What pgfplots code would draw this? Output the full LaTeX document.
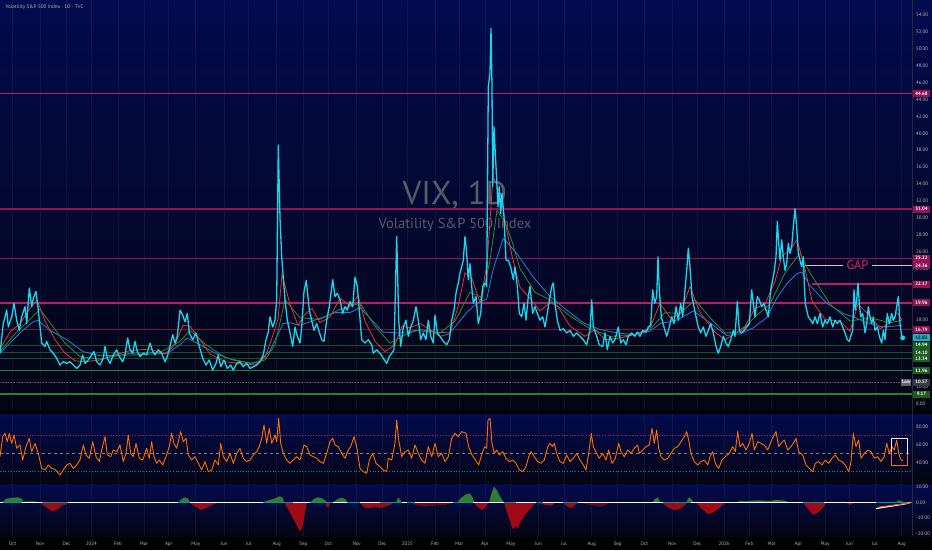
\documentclass[border=0pt]{standalone}
\usepackage{pgfplots}
\pgfplotsset{compat=1.18}
\usepackage{fontspec}
\setmainfont{PT Sans}
\definecolor{navytop}{RGB}{2,11,78}
\definecolor{navybot}{RGB}{5,5,20}
\definecolor{vixc}{RGB}{24,214,235}
\definecolor{redma}{RGB}{225,55,50}
\definecolor{greenma}{RGB}{45,140,50}
\definecolor{bluema}{RGB}{35,130,210}
\definecolor{crim}{RGB}{150,18,85}
\definecolor{crimb}{RGB}{185,28,105}
\definecolor{crimd}{RGB}{115,14,66}
\definecolor{gdark}{RGB}{27,80,32}
\definecolor{gmid}{RGB}{46,125,50}
\definecolor{gtag}{RGB}{27,94,32}
\definecolor{tickc}{RGB}{178,181,190}
\definecolor{wmc}{RGB}{88,90,104}
\definecolor{gapc}{RGB}{214,40,100}
\definecolor{gapl}{RGB}{220,185,205}
\definecolor{rsic}{RGB}{255,109,0}
\definecolor{macdg}{RGB}{46,125,50}
\definecolor{macdr}{RGB}{160,10,20}
\definecolor{macdteal}{RGB}{0,150,165}
\definecolor{sepc}{RGB}{40,42,60}
\pgfplotsset{panel/.style={scale only axis, width=912pt, xmin=0, xmax=912,
  axis line style={draw=none}, major tick length=0pt,
  xtick={12.7,40,66.7,91.3,118,144,168.7,195.7,224,248.7,276.7,303.3,328.3,356.7,382.3,407.3,435,459.3,485,510.7,538.3,564,591.7,617.7,644.3,672.3,697.3,724,749.3,771.7,798.3,825,849.3,875,901.7},
  xmajorgrids, grid style={white, opacity=0.05, line width=0.5pt},
  yticklabel pos=right,
  yticklabel style={font=\fontsize{5}{6}\selectfont, text=tickc, xshift=0.5pt,
    /pgf/number format/fixed, /pgf/number format/fixed zerofill, /pgf/number format/precision=2},
  /pgf/number format/assume math mode=true}}
\begin{document}
\begin{tikzpicture}[x=1pt,y=1pt]
\fill[black] (0,0) rectangle (932,550);
\shade[top color=navytop, bottom color=navybot] (0,140) rectangle (932,550);
\shade[top color=navytop, bottom color=navybot] (0,67.3) rectangle (932,136);
\shade[top color=navytop, bottom color=navybot] (0,14) rectangle (932,66);
\node[text=wmc, font=\fontsize{33}{36}\selectfont] at (455,355) {VIX, 1D};
\node[text=wmc, font=\fontsize{14.5}{16}\selectfont] at (455,325) {Volatility S\&P 500 Index};
\node[anchor=west, text=tickc, font=\fontsize{5.2}{6}\selectfont] at (2,543.3) {Volatility S\&P 500 Index · 1D · TVC};

% ---------------- main panel ----------------
\begin{axis}[panel, at={(0pt,140pt)}, anchor=south west, height=410pt,
  ymin=7.29, ymax=55.75, ytick={8,10,...,54}, xticklabels={}, clip=false]
\addplot[crimb, line width=1.4pt] coordinates {(0,44.68)(912,44.68)};
\addplot[crim, line width=1.3pt] coordinates {(0,31.04)(912,31.04)};
\addplot[crim, line width=1.3pt] coordinates {(0,25.22)(912,25.22)};
\addplot[crimb, line width=1.4pt] coordinates {(811.7,22.17)(912,22.17)};
\addplot[crimb, line width=1.4pt] coordinates {(0,19.96)(912,19.96)};
\addplot[crim!85!black, line width=1.4pt] coordinates {(0,16.79)(912,16.79)};
\addplot[gdark, line width=0.7pt] coordinates {(0,14.94)(912,14.94)};
\addplot[gdark, line width=0.7pt] coordinates {(0,14.10)(912,14.10)};
\addplot[gdark, line width=0.7pt] coordinates {(0,13.34)(912,13.34)};
\addplot[gmid, line width=1.3pt] coordinates {(0,11.96)(912,11.96)};
\addplot[gray!70!black, line width=0.6pt, densely dotted] coordinates {(0,10.57)(912,10.57)};
\addplot[gmid, line width=1.3pt] coordinates {(0,9.17)(912,9.17)};
\addplot[gapl, line width=1pt] coordinates {(805,24.36)(843.3,24.36)};
\addplot[gapl, line width=1pt] coordinates {(871.7,24.36)(912,24.36)};
\node[text=gapc, font=\fontsize{12.5}{13}\selectfont] at (axis cs:857.5,24.36) {GAP};
% moving averages
\addplot[bluema, line width=0.8pt] coordinates {(0,14.0)(20,16.4)(33,17.7)(38,17.9)(50,16.7)(67,15.6)(83,14.2)(100,13.7)(133,13.8)(150,13.9)(167,14.0)(180,15.0)(187,15.8)(200,15.0)(217,13.9)(233,13.2)(253,12.8)(260,13.1)(270,14.3)(283,17.5)(290,17.6)(300,17.3)(317,18.0)(335,18.8)(350,18.8)(360,19.4)(383,16.5)(400,16.4)(416,16.7)(433,16.5)(450,16.4)(466.7,18.8)(476.7,19.9)(486.7,20.4)(493.3,24.0)(503.3,27.6)(516.7,25.8)(533.3,23.0)(550,20.7)(566.7,19.1)(583.3,17.6)(600,16.8)(616.7,16.4)(633,16.2)(650,16.6)(660,17.5)(676.7,17.9)(693.3,19.0)(710,17.6)(726.7,16.1)(740,16.3)(753.3,17.0)(766.7,18.2)(776.7,20.5)(786.7,22.2)(796.7,23.4)(801.7,23.6)(810,22.0)(826.7,19.9)(843.3,18.7)(853.3,18.3)(866.7,17.6)(883.3,17.1)(902,17.3)};
\addplot[greenma, line width=0.8pt] coordinates {(0,14.2)(15,16.3)(30,18.0)(40,19.2)(50,17.6)(65,15.2)(80,13.6)(100,13.3)(130,14.0)(160,14.1)(180,15.4)(190,16.7)(205,15.1)(225,13.5)(250,12.8)(265,13.2)(275,15.0)(285,20.3)(300,18.2)(320,18.0)(340,19.2)(360,19.9)(375,17.2)(390,15.2)(405,16.2)(420,16.8)(440,16.4)(455,17.8)(470,21.2)(482,20.6)(490,25)(497,30.9)(505,29.5)(512,27.2)(520,24)(535,21.2)(550,20.3)(570,18.4)(590,16.9)(610,16.0)(630,16.1)(650,16.8)(665,18.8)(680,18.7)(695,20.3)(710,18.2)(725,16.4)(740,16.5)(755,18.3)(770,19.8)(785,23.5)(800,25.8)(810,23.5)(830,19.8)(850,17.8)(870,18.2)(890,17.6)(902,17.9)};
\addplot[redma, line width=0.8pt] coordinates {(0,14.5)(10,16.5)(20,17.5)(30,19.3)(37,20.3)(45,17.8)(55,15.6)(65,14.0)(75,13.1)(85,13.0)(100,13.2)(115,13.8)(130,14.3)(150,14.5)(165,13.9)(175,15.0)(183,17.3)(190,17.2)(200,15.6)(210,13.9)(225,13.0)(240,12.8)(255,12.6)(265,13.5)(272,15.8)(278,18)(282,23.3)(290,19.8)(298,17.3)(305,18.6)(312,19.3)(320,17.6)(330,18.3)(340,20.5)(350,19.6)(358,20.8)(365,17.8)(375,15.4)(385,14.2)(395,15.0)(402,17.2)(410,17.0)(420,17.5)(430,16.8)(440,16.0)(450,16.3)(458,19.5)(465,23.5)(472,22.8)(480,20.0)(487,24.5)(493,34.9)(500,33)(506,29)(512,25.5)(520,21.8)(530,20.5)(540,19.0)(550,20.0)(558,19.5)(570,17.2)(585,16.0)(595,16.8)(605,15.6)(620,15.8)(635,16.2)(650,17.0)(660,19.9)(670,18.2)(680,18.6)(690,21.9)(700,18.8)(715,16.5)(725,15.6)(735,16.3)(745,17.2)(755,19.3)(765,19.8)(775,22.5)(782,25.5)(790,26.2)(797,27.4)(805,24)(812,20.2)(825,18.0)(840,17.8)(850,16.6)(858,19.8)(870,18.4)(880,16.9)(890,17.6)(897,18.8)(902,17.9)};
% VIX
\addplot[vixc, line width=1.3pt, line join=round] coordinates {(0,14.0)(3.3,17.5)(6.7,19.1)(8.3,17.1)(11.7,18.3)(14,19.9)(16.7,17.9)(19.3,16.7)(21.7,18.3)(25,19.5)(26.7,17.5)(29.3,21.7)(31.7,19.5)(33.3,20.5)(36,21.3)(38.3,19.1)(41.7,15.2)(45,14.8)(46.7,15.4)(50,14.4)(53.3,14.0)(56.7,13.4)(60,12.6)(63.3,13.0)(66.7,12.8)(70,13.0)(73.3,12.6)(76.7,12.2)(80,12.6)(82.7,13.8)(85,12.8)(88.3,13.2)(91.7,13.8)(94,14.2)(96.7,13.0)(100,12.6)(103.3,13.4)(105,14.8)(107.3,13.4)(110,12.8)(113.3,13.8)(116.7,14.4)(119.3,13.6)(122.7,13.0)(125,13.8)(127.7,15.8)(130,14.4)(132.7,14.0)(135,15.4)(137.3,14.2)(140,13.6)(143.3,14.0)(146.7,13.8)(150,15.2)(152.7,14.2)(155,13.8)(158.3,14.4)(161.7,14.0)(165,13.0)(167.3,13.6)(170,14.8)(172.7,16.2)(175,15.2)(177.3,16.0)(180,19.1)(182.7,18.5)(185,17.7)(187.3,18.7)(189.3,16.4)(192.7,15.6)(196,16.4)(199.3,14.8)(202.7,13.4)(206,12.6)(209.3,13.2)(212.7,12.0)(216,12.8)(218.3,13.8)(220.7,12.4)(224,13.2)(227.3,12.2)(230.7,12.6)(233.3,12.0)(236.7,12.8)(240,13.0)(243.3,12.4)(246.7,12.8)(250,12.2)(253.3,12.4)(256.7,12.6)(260,13.0)(263.3,13.8)(266,15.6)(268.3,16.5)(270,18.3)(272.7,17.1)(275,17.9)(276.7,20.3)(278.3,38.6)(280,30.0)(281.7,25.4)(285,20.3)(287.3,17.9)(290,16.4)(292.7,14.8)(295,17.1)(297.3,16.0)(300,15.2)(301.7,17.1)(304,21.3)(306.3,22.6)(309.3,19.1)(311.7,17.9)(314,16.7)(316.7,17.5)(319.3,16.5)(321.7,15.6)(324,15.4)(326.7,17.9)(329.3,19.5)(332.7,22.7)(335,20.7)(337.3,21.1)(340,20.3)(342.7,18.7)(345,19.5)(347.3,19.1)(350,20.1)(352.7,19.5)(355,23.0)(357.3,21.9)(359.3,19.1)(361.7,15.6)(365,15.2)(368.3,15.6)(371.7,15.0)(373.3,14.0)(376.7,14.4)(380,14.0)(383.3,13.4)(386.7,12.8)(389.3,13.6)(391.7,14.0)(394,14.4)(396.7,27.8)(398.7,17.9)(400.7,14.8)(403.3,17.1)(406,17.9)(408.3,16.0)(410.7,17.1)(413.3,17.9)(416,19.5)(418.3,17.9)(420.7,15.6)(423.3,16.4)(426,15.6)(428.3,17.9)(430.7,16.0)(433.3,15.2)(435,18.5)(437.3,16.4)(440,16.0)(443.3,15.4)(446.7,15.0)(449.3,15.6)(451.7,17.9)(454,19.1)(456,21.1)(458.3,22.3)(460,23.5)(461.7,24.2)(463.3,25.0)(465,27.8)(466.7,25.8)(468.3,22.7)(470,24.6)(471.7,21.9)(473.3,19.9)(476,20.7)(478.3,17.5)(480.7,18.7)(482.7,21.9)(485,22.3)(486.7,21.9)(488.3,45.5)(490,47.1)(491,52.4)(492,45.5)(492.7,33.7)(494,40.8)(495.3,37.6)(496.7,34.5)(498,31.3)(499.3,33.7)(500.7,30.5)(502,32.9)(504,30.1)(506,25.0)(508.3,25.0)(510.7,24.2)(513.3,22.7)(515,24.2)(517.3,21.9)(519.3,18.7)(521.7,18.3)(524,19.9)(526,17.9)(528.3,20.7)(530,21.9)(532.7,18.7)(535,19.5)(537.3,18.7)(540,17.9)(542.7,18.3)(545,17.1)(547.3,18.7)(550,20.7)(551.7,21.9)(553.3,22.3)(555,19.9)(557.3,17.9)(560,16.7)(563.3,16.9)(566.7,16.4)(570,16.7)(573.3,16.0)(576.7,16.4)(580,16.0)(583.3,15.6)(586.7,15.0)(590,16.7)(591.7,20.3)(593.3,17.1)(596.7,16.0)(599.3,15.0)(602.7,14.8)(605,16.4)(607.3,14.4)(610,16.0)(612.7,15.2)(615,15.6)(618.3,17.1)(620.7,15.2)(623.3,15.6)(626,15.0)(628.3,16.0)(631.7,16.4)(635,16.0)(637.3,16.5)(640,16.0)(642.7,16.7)(646,16.5)(648.3,17.1)(650.7,17.3)(652.7,21.5)(654.7,19.9)(656.7,20.7)(658,25.4)(659.3,21.5)(661.3,18.3)(664,17.1)(666.7,16.0)(669.3,17.1)(671.7,18.3)(674,17.5)(676,19.5)(678.3,17.9)(680.7,19.9)(682.7,18.3)(685,21.5)(686.7,23.8)(688.3,26.4)(690,24.2)(692,20.7)(694,19.5)(696,18.3)(698.3,17.1)(700.7,16.4)(703.3,17.1)(706,16.0)(708.3,16.7)(710.7,17.5)(713.3,16.4)(716,14.8)(718.3,14.0)(720.7,14.8)(723.3,16.0)(726,15.2)(728.3,14.8)(730.7,15.6)(733.3,16.7)(735,16.0)(737.3,20.1)(739.3,16.7)(741.7,16.4)(744,16.7)(746.7,17.1)(749.3,17.5)(751.7,21.5)(753.3,19.9)(755,18.3)(757.3,20.7)(759.3,20.3)(761.7,19.5)(764,19.9)(766,19.1)(768.3,18.3)(770.7,21.5)(772.7,22.7)(774,23.5)(776,25.4)(777.3,29.6)(778.7,27.0)(780,25.0)(781.7,27.4)(783.3,25.4)(785,23.8)(786.7,24.6)(788.3,27.0)(790,25.8)(791.7,26.6)(793.3,28.9)(795,31.1)(796.7,28.9)(798.3,25.8)(800,25.0)(801.7,24.2)(803.3,25.4)(804.3,22.3)(805.3,19.9)(806.7,19.1)(808.3,18.3)(810.7,17.9)(812.7,17.5)(815,18.3)(817.3,17.5)(820,18.7)(822.7,17.1)(825,17.9)(827.3,17.5)(830,18.3)(832.7,17.1)(835,17.9)(837.3,17.5)(840,17.9)(842.7,17.1)(845,16.4)(847.3,15.6)(849.3,15.4)(850.7,16.0)(852.7,16.7)(854,21.5)(855.3,19.1)(856.7,20.3)(858,22.3)(859.3,19.9)(860.7,18.3)(862.7,18.7)(865,16.4)(866.7,17.5)(868.3,19.5)(870,18.3)(871.7,17.5)(873.3,18.3)(875,16.7)(877.3,17.1)(879.3,16.0)(881.7,15.2)(883.3,16.7)(885,15.6)(887.3,18.7)(889.3,17.5)(891.7,18.7)(893.3,17.9)(895,18.3)(896.7,19.5)(898.3,20.7)(900,17.5)(901.7,16.0)(902.7,15.8)};
\addplot[vixc, only marks, mark=*, mark size=2.2pt] coordinates {(902.7,15.82)};
\end{axis}

% ---------------- RSI panel ----------------
\begin{axis}[panel, at={(0pt,67.3pt)}, anchor=south west, height=68.7pt,
  ymin=17.8, ymax=94.1, ytick={40,60,80}, xticklabels={}, clip=false]
\addplot[crimb, line width=0.7pt, dotted] coordinates {(0,70)(912,70)};
\addplot[gray, line width=0.6pt, dashed] coordinates {(0,50)(912,50)};
\addplot[macdteal, line width=0.7pt, dotted] coordinates {(0,30)(912,30)};
\addplot[rsic, line width=0.9pt, line join=round] coordinates {(0,46.7)(2.7,68.9)(5,72.6)(7.3,63.4)(9.3,72.6)(11.7,61.5)(14,70.8)(16.7,56)(20,59.7)(22.7,43)(26,57.8)(29.3,67.1)(31.7,52.3)(35,61.5)(38.3,50.4)(41.7,33.7)(45,31.9)(48.3,37.5)(51.7,33.7)(55,32.6)(60,26.3)(63.3,31.9)(66.7,37.5)(70,39.3)(73.3,33.7)(76.7,37.5)(80,43)(83.3,59.7)(86,48.6)(89.3,44.9)(92.7,63.4)(96,46.7)(99.3,41.2)(101.7,54.1)(105,68.9)(107.3,48.6)(110.7,46.7)(113.3,54.1)(116.7,52.3)(120,59.7)(123.3,41.2)(126,50.4)(128.3,70.8)(130.7,50.4)(133.3,46.7)(136,61.5)(139.3,44.9)(142.7,43)(146.7,56)(149.3,44.9)(151.7,63.4)(154,46.7)(156.7,39.3)(159.3,43)(162.7,37.5)(166,46.7)(169.3,57.8)(171.7,72.6)(174,61.5)(176.7,56)(180.7,74.5)(183.3,63.4)(186,67.1)(188.3,48.6)(191.7,43)(195,46.7)(198.3,39.3)(201.7,31.9)(205,41.2)(208.3,30)(211.7,31.9)(215,43)(218.3,37.5)(220.7,61.5)(223.3,46.7)(226.7,41.2)(230,50.4)(233.3,39.3)(236.7,50.4)(240,56)(243.3,44.9)(246.7,41.2)(250,43)(253.3,48.6)(256.7,52.3)(259.3,57.8)(261.7,67.1)(264,81.9)(266.7,61.5)(269.3,78.2)(271.7,61.5)(275,70.8)(276.7,63.4)(278.7,89.3)(280.7,61.5)(283.3,50.4)(286.7,43)(290,39.3)(293.3,43)(296.7,46.7)(300,43)(304,59.7)(306.7,57.8)(310,48.6)(313.3,46.7)(316.7,44.9)(320,41.2)(323.3,39.3)(326.7,50.4)(330,63.4)(332.7,67.1)(335,59.7)(338.3,57.8)(341.7,50.4)(345,44.9)(348.3,54.1)(350.7,57.8)(354,68.9)(356.7,57.8)(360,33.7)(363.3,30)(366.7,28.2)(369.3,43)(372.7,50.4)(376,39.3)(380,35.6)(383.3,31.9)(386.7,30)(388.3,44.9)(391.7,43)(395,61.5)(396.7,87.4)(398.7,65.2)(401.7,46.7)(405,52.3)(408.3,54.1)(411.7,44.9)(415,59.7)(418.3,50.4)(421.7,43)(425,39.3)(428.3,57.8)(431.7,46.7)(435,61.5)(438.3,46.7)(441.7,50.4)(445,41.2)(448.3,46.7)(451.7,67.1)(455,72.6)(458.3,68.9)(461.7,74.5)(466,72.6)(468.7,57.8)(472,48.6)(475.3,43)(478.7,37.5)(482,50.4)(484.7,57.8)(486.7,56)(488,87.4)(490,89.3)(492,61.5)(494.3,50.4)(496.7,54.1)(499.3,48.6)(502.7,52.3)(506,44.9)(509.3,41.2)(512.7,43)(516,39.3)(519.3,31.9)(522.7,30)(526,35.6)(528.7,46.7)(531,52.3)(534.3,46.7)(537.7,41.2)(541,39.3)(544.3,43)(547.7,57.8)(550,61.5)(552.7,57.8)(554.3,61.5)(556.7,50.4)(560,41.2)(563.3,39.3)(566.7,48.6)(570,41.2)(573.3,44.9)(576.7,50.4)(580,43)(583.3,37.5)(586,31.9)(588.7,50.4)(591.3,72.6)(593.3,57.8)(596.7,50.4)(599.3,44.9)(602.7,50.4)(606,43)(608.7,54.1)(612,39.3)(615.3,44.9)(618.7,61.5)(621,52.3)(624.3,46.7)(627.7,54.1)(631,50.4)(634.3,56)(637.7,59.7)(639.3,50.4)(642.7,54.1)(646,57.8)(649.3,59.7)(652,78.2)(654.3,61.5)(656.7,76.3)(658.7,56)(661,46.7)(664.3,43)(667.7,44.9)(671,50.4)(674.3,56)(677.7,57.8)(681,63.4)(684.3,68.9)(686.7,74.5)(688.7,65.2)(691,50.4)(694.3,41.2)(697.7,37.5)(701,41.2)(704.3,43)(707.7,37.5)(710,46.7)(712.7,52.3)(715.3,39.3)(718.7,33.7)(722,43)(725.3,46.7)(729.3,50.4)(732.7,57.8)(735.3,52.3)(737.7,74.5)(740,57.8)(742.7,61.5)(746,54.1)(749.3,61.5)(752,72.6)(754.3,54.1)(757.7,63.4)(761,61.5)(764.3,59.7)(767.7,54.1)(771,63.4)(773.3,68.9)(776,74.5)(778.7,57.8)(781,61.5)(784.3,65.2)(787.7,54.1)(791,57.8)(794.3,63.4)(796,67.1)(798.7,52.3)(802.7,48.6)(806,37.5)(809.3,33.7)(812.7,30)(815.3,39.3)(818.7,41.2)(822,37.5)(825.3,43)(828.7,39.3)(832,44.9)(835.3,48.6)(838.7,43)(842,41.2)(845.3,37.5)(848.7,30)(851,41.2)(853.3,72.6)(856,57.8)(858.7,65.2)(861,44.9)(864.3,50.4)(867.7,54.1)(871,52.3)(874.3,44.9)(877.7,46.7)(881,41.2)(884.3,46.7)(886.7,61.5)(889.3,50.4)(892,57.8)(894.3,54.1)(896.7,65.2)(898.7,50.4)(901,43)(902.7,42.3)};
\addplot[rsic, line width=1pt] coordinates {(891,52)(891,37.4)(907,37.4)(907,50)};
\addplot[white!85!gray, line width=1pt] coordinates {(891,52)(891,67.1)(907,67.1)(907,50)};
\end{axis}

% ---------------- MACD panel ----------------
\begin{axis}[panel, at={(0pt,14pt)}, anchor=south west, height=52pt,
  ymin=-21.6, ymax=12.1, ytick={-20,-10,0,10},
  xticklabels={Oct,Nov,Dec,2024,Feb,Mar,Apr,May,Jun,Jul,Aug,Sep,Oct,Nov,Dec,2025,Feb,Mar,Apr,May,Jun,Jul,Aug,Sep,Oct,Nov,Dec,2026,Feb,Mar,Apr,May,Jun,Jul,Aug},
  xticklabel style={font=\fontsize{5}{6}\selectfont, text=tickc, anchor=center, yshift=-8pt},
  clip=false]
\addplot[fill=macdg, draw=none] coordinates {(2,0)(6,2.5)(12,3.2)(18,3.5)(22,2.5)(23,0)};
\addplot[fill=macdg!60!black, draw=none] coordinates {(22,0)(25,1)(30,1.3)(36,1)(38,0)};
\addplot[fill=macdr, draw=none] coordinates {(40,0)(45,-2.5)(50,-4.5)(53,-5.8)(58,-4)(62,-2)(67,-0.8)(68,0)};
\addplot[fill=macdg, draw=none] coordinates {(178,0)(181,2)(184,3.4)(188,2.8)(190,0)};
\addplot[fill=macdr, draw=none] coordinates {(190,0)(195,-2.5)(201,-4.6)(206,-3.5)(212,-1.5)(217,0)};
\addplot[fill=macdg, draw=none] coordinates {(262,0)(268,1.5)(274,2.5)(280,4.2)(283,3)(284,0)};
\addplot[fill=macdr, draw=none] coordinates {(284,0)(289,-5)(293,-10)(297,-15)(300,-18.5)(302,-17)(304,-10)(306,-3)(307,0)};
\addplot[fill=macdg, draw=none] coordinates {(310,0)(314,2.5)(318,3.5)(322,2.8)(326,1)(327,0)};
\addplot[fill=macdr, draw=none] coordinates {(325,0)(326,-2.5)(329,-3)(330,0)};
\addplot[fill=macdg, draw=none] coordinates {(333,0)(338,2.5)(342,3.2)(346,2)(347,0)};
\addplot[fill=macdr, draw=none] coordinates {(360,0)(364,-3)(370,-3.5)(375,-2.5)(380,-3.5)(385,-2.5)(392,-1)(393,0)};
\addplot[fill=macdg, draw=none] coordinates {(396,0)(398,3.5)(400,2)(402,0)};
\addplot[fill=macdr!70!black, draw=none] coordinates {(410,0)(415,-1.5)(425,-2.5)(435,-2)(445,-1.5)(450,-0.5)(452,0)};
\addplot[fill=macdg, draw=none] coordinates {(457,0)(461,3)(466,5.5)(470,6)(473,3)(474,0)};
\addplot[fill=macdr, draw=none] coordinates {(474,0)(478,-3)(482,-4.8)(486,-3)(488,0)};
\addplot[fill=macdg, draw=none] coordinates {(489,0)(491,5)(494,10.4)(497,8)(500,4)(503,1)(504,0)};
\addplot[fill=macdr, draw=none] coordinates {(504,0)(508,-8)(511,-14)(513,-17.3)(516,-15)(518,-17)(520,-13)(525,-8)(530,-4)(536,0)};
\addplot[fill=macdr, draw=none] coordinates {(538,0)(545,-1.5)(552,-2)(555,0)};
\addplot[fill=macdr, draw=none] coordinates {(563,0)(567,-2.5)(571,-3.5)(576,-1)(577,0)};
\addplot[fill=macdr!70!black, draw=none] coordinates {(580,0)(590,-1.5)(600,-2.5)(606,-1.5)(610,0)};
\addplot[fill=macdg, draw=none] coordinates {(652,0)(655,2.5)(658,3.5)(660,0)};
\addplot[fill=macdr, draw=none] coordinates {(662,0)(668,-3)(674,-4.8)(680,-4)(686,-1)(687,0)};
\addplot[fill=macdg, draw=none] coordinates {(686,0)(689,3.5)(692,2)(693,0)};
\addplot[fill=macdr, draw=none] coordinates {(696,0)(702,-4)(708,-7.5)(714,-6)(720,-3)(724,-1)(725,0)};
\addplot[fill=macdg, draw=none] coordinates {(736,0)(740,1.2)(745,0.8)(752,1.3)(760,1.5)(770,1)(775,1.8)(785,1.3)(790,0)};
\addplot[fill=macdr, draw=none] coordinates {(803,0)(808,-4)(813,-7.8)(818,-6.5)(823,-3)(826,0)};
\addplot[fill=macdr, draw=none] coordinates {(846,0)(850,-1.5)(853,-0.5)(854,0)};
\addplot[fill=macdg, draw=none] coordinates {(896,0)(898,1.5)(902,1)(903,0)};
\addplot[macdteal, line width=1.5pt] coordinates {(0,0)(912,0)};
\addplot[white, line width=1.5pt, unbounded coords=jump] coordinates {(0,0)(3,0)(10,nan)(22,0)(42,0)(50,nan)(68,0)(178,0)(180,nan)(190,0)(263,0)(270,nan)(293,0)(310,0)(320,nan)(333,0)(347,0)(350,nan)(360,0)(380,0)(390,nan)(402,0)(407,0)(410,nan)(415,0)(453,0)(460,nan)(473,0)(504,0)(510,nan)(516,0)(536,0)(540,nan)(543,0)(563,0)(570,nan)(578,0)(663,0)(670,nan)(691,0)(803,0)(810,nan)(824,0)(876,0)};
\addplot[white, line width=1.2pt] coordinates {(876,-3.8)(905,-0.8)(911,0.3)};
\addplot[rsic!80!red, line width=1pt] coordinates {(879,-2.8)(905,-0.6)(911,0)};
\end{axis}

\draw[sepc, line width=0.6pt] (912,14) -- (912,550);

% price tags
\tikzset{tag/.style={anchor=west, minimum width=17.5pt, minimum height=6.8pt, inner sep=0.4pt,
  font=\fontsize{4.8}{5}\selectfont\bfseries, text=white}}
\node[tag, fill=crim] at (912.5,456.3) {44.68};
\node[tag, fill=crim] at (912.5,340.9) {31.04};
\node[tag, fill=crim] at (912.5,291.7) {25.22};
\node[tag, fill=crim] at (912.5,284.4) {24.36};
\node[tag, fill=crim] at (912.5,265.9) {22.17};
\node[tag, fill=crim] at (912.5,247.2) {19.96};
\node[tag, fill=crim] at (912.5,220.4) {16.79};
\node[tag, fill=vixc!85!black, text=black] at (912.5,212.2) {15.82};
\node[tag, fill=gtag] at (912.5,204.7) {14.94};
\node[tag, fill=gtag] at (912.5,197.6) {14.10};
\node[tag, fill=gtag] at (912.5,191.2) {13.34};
\node[tag, fill=gtag] at (912.5,179.5) {11.96};
\node[tag, fill={rgb,255:red,55;green,58;blue,70}] at (912.5,167.8) {10.57};
\node[tag, fill={rgb,255:red,95;green,98;blue,112}, anchor=east, minimum width=10pt] at (911.5,167.8) {Low};
\node[tag, fill=gtag] at (912.5,155.9) {9.17};
\pgfresetboundingbox
\path[use as bounding box] (0,0) rectangle (932,550);
\end{tikzpicture}
\end{document}
